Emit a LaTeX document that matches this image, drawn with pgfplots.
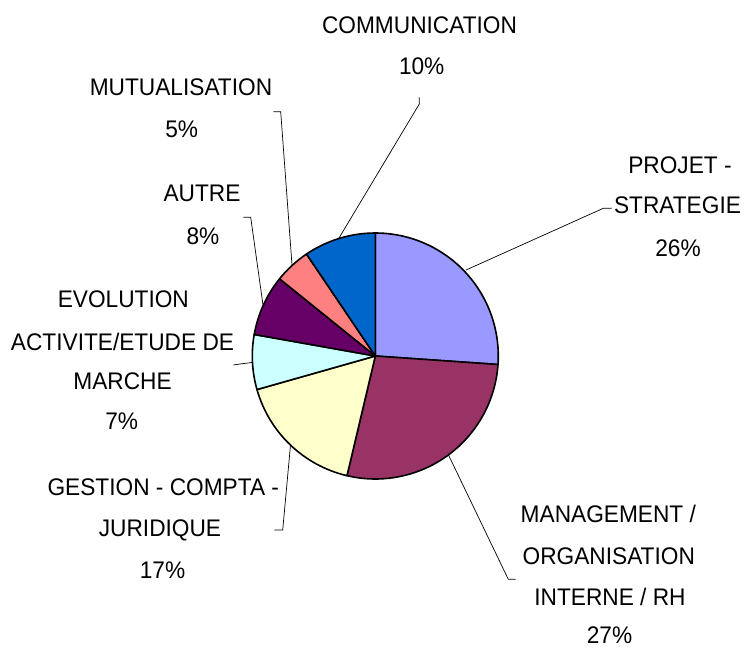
\documentclass[border=0pt]{standalone}
\usepackage{fontspec}
\setmainfont{Liberation Sans}[FakeStretch=0.945]
\usepackage{pgfplots}
\pgfplotsset{compat=1.18}

\definecolor{cProjet}{HTML}{9999FF}
\definecolor{cMgmt}{HTML}{993366}
\definecolor{cGestion}{HTML}{FFFFCC}
\definecolor{cEvol}{HTML}{CCFFFF}
\definecolor{cAutre}{HTML}{660066}
\definecolor{cMutu}{HTML}{FF8080}
\definecolor{cComm}{HTML}{0066CC}

\begin{document}
\begin{tikzpicture}[
  lbl/.style={inner sep=0pt, text height=17pt, text depth=0pt,
    font=\fontsize{24}{28}\selectfont},
  slice/.style={draw=black, line width=1.6pt, line join=round},
  lead/.style={draw=black, line width=0.7pt}]
\begin{axis}[
    width=744pt, height=648pt, scale only axis,
    xmin=0, xmax=744, ymin=0, ymax=648,
    y dir=reverse, hide axis, clip=false]
\path (axis cs:0,0) rectangle (axis cs:744,648);

% leader lines
\draw[lead] (axis cs:419.3,97.3) -- (axis cs:419.3,104) -- (axis cs:339,238);
\draw[lead] (axis cs:273.3,111.7) -- (axis cs:280.7,111.7) -- (axis cs:292,265);
\draw[lead] (axis cs:243.3,217.3) -- (axis cs:250.7,217.3) -- (axis cs:263,305);
\draw[lead] (axis cs:611.7,208.3) -- (axis cs:603.3,208.3) -- (axis cs:466,270);
\draw[lead] (axis cs:233.3,365) -- (axis cs:240,364) -- (axis cs:252.5,362.4);
\draw[lead] (axis cs:274.3,530) -- (axis cs:282.7,530) -- (axis cs:290.5,445);
\draw[lead] (axis cs:515.7,579.3) -- (axis cs:508.3,579.3) -- (axis cs:448.5,455);

% pie slices: shares in percent, clockwise from 12 o'clock
% Projet 26.1, Management 27.6, Gestion 16.9, Evolution 7.2,
% Autre 8.0, Mutualisation 4.75, Communication 9.45
\fill[cProjet, slice] (axis cs:375.3,356) -- ++(90:123pt)
  arc[start angle=90, delta angle=-3.6*26.1, radius=123pt] -- cycle;
\fill[cMgmt, slice] (axis cs:375.3,356) -- ++(-3.96:123pt)
  arc[start angle=-3.96, delta angle=-3.6*27.6, radius=123pt] -- cycle;
\fill[cGestion, slice] (axis cs:375.3,356) -- ++(-103.32:123pt)
  arc[start angle=-103.32, delta angle=-3.6*16.9, radius=123pt] -- cycle;
\fill[cEvol, slice] (axis cs:375.3,356) -- ++(-164.16:123pt)
  arc[start angle=-164.16, delta angle=-3.6*7.2, radius=123pt] -- cycle;
\fill[cAutre, slice] (axis cs:375.3,356) -- ++(-190.08:123pt)
  arc[start angle=-190.08, delta angle=-3.6*8.0, radius=123pt] -- cycle;
\fill[cMutu, slice] (axis cs:375.3,356) -- ++(-218.88:123pt)
  arc[start angle=-218.88, delta angle=-3.6*4.75, radius=123pt] -- cycle;
\fill[cComm, slice] (axis cs:375.3,356) -- ++(-235.98:123pt)
  arc[start angle=-235.98, delta angle=-3.6*9.45, radius=123pt] -- cycle;

% labels
\node[lbl] at (axis cs:419.5,24.5) {COMMUNICATION};
\node[lbl] at (axis cs:421.7,65.8) {10\%};
\node[lbl] at (axis cs:181,86.7) {MUTUALISATION};
\node[lbl] at (axis cs:181.7,129) {5\%};
\node[lbl] at (axis cs:202,192.5) {AUTRE};
\node[lbl] at (axis cs:203,235.7) {8\%};
\node[lbl] at (axis cs:680,165) {PROJET -};
\node[lbl] at (axis cs:677.5,205) {STRATEGIE};
\node[lbl] at (axis cs:678,248) {26\%};
\node[lbl] at (axis cs:123.3,299) {EVOLUTION};
\node[lbl] at (axis cs:122.5,341.7) {ACTIVITE/ETUDE DE};
\node[lbl] at (axis cs:122.5,380.8) {MARCHE};
\node[lbl] at (axis cs:121.7,420.8) {7\%};
\node[lbl] at (axis cs:163.3,486.7) {GESTION - COMPTA -};
\node[lbl] at (axis cs:160,528) {JURIDIQUE};
\node[lbl] at (axis cs:162.5,569.5) {17\%};
\node[lbl] at (axis cs:608.3,513.7) {MANAGEMENT /};
\node[lbl] at (axis cs:608.8,555.5) {ORGANISATION};
\node[lbl] at (axis cs:610,596.7) {INTERNE / RH};
\node[lbl] at (axis cs:609.5,634.5) {27\%};
\end{axis}
\end{tikzpicture}
\end{document}
